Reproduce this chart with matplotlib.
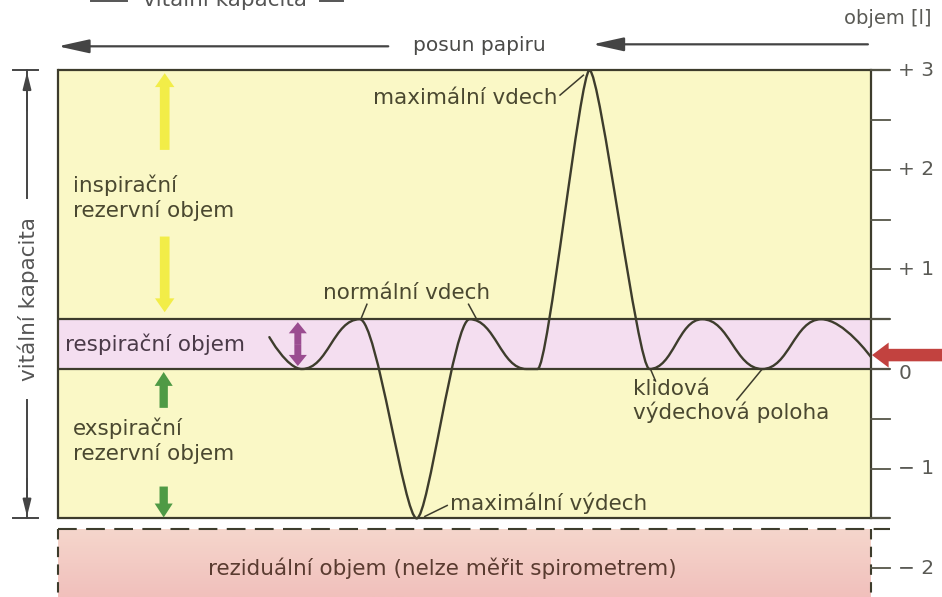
import numpy as np
import matplotlib
matplotlib.use("Agg")
import matplotlib.pyplot as plt
from matplotlib.path import Path
from matplotlib.patches import PathPatch, Rectangle, ArrowStyle

# ---- spirogram trace: turning points (time in chart units, volume in litres) ----
turn_time = [20.8, 24.0, 29.7, 35.3, 40.5, 46.1, 47.2, 52.3, 58.2, 63.4, 69.3, 75.1, 80.0]
turn_volume = [0.32, 0.0, 0.5, -1.5, 0.5, 0.0, 0.0, 3.0, 0.0, 0.5, 0.0, 0.5, 0.12]

# ---- lung volume levels (litres) ----
max_inspiration = 3.0
tidal_top = 0.5
rest_level = 0.0
max_expiration = -1.5
residual_top = -1.61

# ---- volume scale on the right ----
major_ticks = [3, 2, 1, 0, -1, -2]
major_labels = ["+ 3", "+ 2", "+ 1", "0", "− 1", "− 2"]
minor_ticks = [2.5, 1.5, 0.5, -0.5, -1.5]

# ---- styling ----
INK = "#3d3c2c"
TXT = "#4a4830"
YELLOW_BG = "#faf8c6"
PINK_BG = "#f4def0"
FS = 15.5

# Bezier handle fractions (start, end) of every trace segment: short handles give
# steep flanks with rounded turns, long handles give the sinusoid-like tidal breaths
handles = [(0.0, 0.45), (0.45, 0.45), (0.3, 0.22), (0.22, 0.3), (0.45, 0.45),
           (0.0, 0.0), (0.2, 0.18), (0.18, 0.2), (0.45, 0.45), (0.45, 0.45),
           (0.45, 0.45), (0.45, 0.0)]

T0, T1 = 0.0, 80.0          # time span of the recording panel

fig = plt.figure(figsize=(9.42, 5.97), dpi=100)
ax = fig.add_axes([0, 0, 1, 1])
ax.axis("off")
XLIM = (-5.707, 86.99)
YLIM = (-2.289, 3.705)

# ---- background zones ----
ax.add_patch(Rectangle((T0, max_expiration), T1 - T0, max_inspiration - max_expiration,
                       facecolor=YELLOW_BG, edgecolor="none", zorder=0))
ax.add_patch(Rectangle((T0, rest_level), T1 - T0, tidal_top - rest_level,
                       facecolor=PINK_BG, edgecolor="none", zorder=0.5))
grad = np.linspace(0, 1, 64).reshape(-1, 1)
top_c = np.array([245, 214, 204]) / 255
bot_c = np.array([241, 192, 188]) / 255
img = top_c[None, None, :] * (1 - grad[:, :, None]) + bot_c[None, None, :] * grad[:, :, None]
ax.imshow(img, extent=[T0, T1, YLIM[0], residual_top], aspect="auto", origin="upper", zorder=0)

# ---- level lines, extended into ticks on the right ----
tick_end = 81.9
for lvl in [max_inspiration, tidal_top, rest_level, max_expiration]:
    ax.plot([T0, tick_end], [lvl, lvl], color=INK, lw=1.6, zorder=2, solid_capstyle="butt")
ax.plot([T0, T0], [max_expiration, max_inspiration], color=INK, lw=1.6, zorder=2)
ax.plot([T1, T1], [max_expiration, max_inspiration], color=INK, lw=1.6, zorder=2)

# residual volume box (dashed)
dash = (0, (9.0, 4.5))
ax.plot([T0, tick_end], [residual_top, residual_top], color=INK, lw=1.5, ls=dash, zorder=2)
ax.plot([T0, T0], [residual_top, YLIM[0]], color=INK, lw=1.5, ls=(0, (5, 3.5)), zorder=2)
ax.plot([T1, T1], [residual_top, YLIM[0]], color=INK, lw=1.5, ls=(0, (5, 3.5)), zorder=2)

# ---- volume scale ----
for v in major_ticks + minor_ticks:
    ax.plot([T1, tick_end], [v, v], color="#555548", lw=1.3, zorder=2)
for v, lab in zip(major_ticks, major_labels):
    dy = -0.05 if v == 0 else 0.0
    ax.text(82.7, v + dy, lab, fontsize=14.5, color="#5a5a55", va="center", ha="left")
ax.text(86.0, 3.52, "objem [l]", fontsize=14, color="#5a5a55", ha="right", va="center")

# ---- spirogram trace ----
verts = [(turn_time[0], turn_volume[0])]
codes = [Path.MOVETO]
for i in range(len(turn_time) - 1):
    ta, va = turn_time[i], turn_volume[i]
    tb, vb = turn_time[i + 1], turn_volume[i + 1]
    k0, k1 = handles[i]
    dx = tb - ta
    verts += [(ta + k0 * dx, va), (tb - k1 * dx, vb), (tb, vb)]
    codes += [Path.CURVE4] * 3
ax.add_patch(PathPatch(Path(verts, codes), facecolor="none", edgecolor=INK,
                       lw=1.7, zorder=3, capstyle="round", joinstyle="round"))

# ---- paper feed arrows ----
feed = ArrowStyle("-|>", head_length=19, head_width=4.2)
ax.annotate("", xy=(0.0, 3.24), xytext=(32.5, 3.24),
            arrowprops=dict(arrowstyle=feed, color="#444444", lw=1.6, mutation_scale=1,
                            shrinkA=0, shrinkB=0))
ax.annotate("", xy=(52.6, 3.26), xytext=(79.7, 3.26),
            arrowprops=dict(arrowstyle=feed, color="#444444", lw=1.6, mutation_scale=1,
                            shrinkA=0, shrinkB=0))
ax.text(41.5, 3.25, "posun papiru", fontsize=FS - 1, color="#4a4a48", ha="center", va="center")


def block_arrow(tail, head, color, tail_w=6, head_w=13, head_l=10, z=4, alpha=1.0):
    style = ArrowStyle("simple", head_length=head_l, head_width=head_w, tail_width=tail_w)
    ax.annotate("", xy=head, xytext=tail,
                arrowprops=dict(arrowstyle=style, color=color, mutation_scale=1,
                                shrinkA=0, shrinkB=0, lw=0, alpha=alpha),
                zorder=z, annotation_clip=False)


# inspiratory reserve (yellow)
block_arrow((10.5, 2.2), (10.5, 2.97), "#f2ec3a", tail_w=7, head_w=14, alpha=0.9)
block_arrow((10.5, 1.33), (10.5, 0.57), "#f2ec3a", tail_w=7, head_w=14, alpha=0.9)
# expiratory reserve (green)
block_arrow((10.4, -0.39), (10.4, -0.03), "#4f9a45")
block_arrow((10.4, -1.18), (10.4, -1.49), "#4f9a45")
# tidal volume (purple, both ways)
block_arrow((23.6, 0.25), (23.6, 0.47), "#9a4c90", tail_w=5, head_w=13, head_l=8)
block_arrow((23.6, 0.25), (23.6, 0.03), "#9a4c90", tail_w=5, head_w=13, head_l=8)
# resting level marker (red)
block_arrow((87.5, 0.14), (80.1, 0.14), "#c2423f", tail_w=9, head_w=18, head_l=12, z=5)

# ---- labels ----
ax.text(1.5, 1.72, "inspirační\nrezervní objem", fontsize=FS, color=TXT,
        ha="left", va="center", linespacing=1.25)
ax.text(1.5, -0.72, "exspirační\nrezervní objem", fontsize=FS, color=TXT,
        ha="left", va="center", linespacing=1.25)
ax.text(0.7, 0.25, "respirační objem", fontsize=FS, color="#4a3a48", ha="left", va="center")
ax.text(34.3, 0.76, "normální vdech", fontsize=FS, color=TXT, ha="center", va="center")
ax.text(49.2, 2.72, "maximální vdech", fontsize=FS, color=TXT, ha="right", va="center")
ax.text(38.6, -1.35, "maximální výdech", fontsize=FS, color=TXT, ha="left", va="center")
ax.text(56.6, -0.32, "klidová\nvýdechová poloha", fontsize=FS, color=TXT,
        ha="left", va="center", linespacing=1.15)
ax.text(37.8, -2.0, "reziduální objem (nelze měřit spirometrem)", fontsize=FS,
        color="#5a3b30", ha="center", va="center")

# leader lines
leaders = [
    ((49.4, 2.75), (51.7, 2.95)),
    ((30.4, 0.65), (29.8, 0.5)),
    ((40.4, 0.65), (41.2, 0.5)),
    ((38.3, -1.37), (36.1, -1.48)),
    ((58.8, -0.12), (58.3, 0.0)),
    ((66.8, -0.31), (69.3, 0.0)),
]
for (a, b) in leaders:
    ax.plot([a[0], b[0]], [a[1], b[1]], color=INK, lw=1.1, zorder=3)

# ---- vital capacity dimension on the left ----
dim_t = -3.05
ax.plot([dim_t, dim_t], [max_inspiration, 1.72], color="#444444", lw=1.4)
ax.plot([dim_t, dim_t], [-0.31, max_expiration], color="#444444", lw=1.4)
for lvl in [max_inspiration, max_expiration]:
    ax.plot([dim_t - 1.35, dim_t + 1.1], [lvl, lvl], color="#444444", lw=1.4)
dim_head = ArrowStyle("-|>", head_length=10, head_width=2.5)
ax.annotate("", xy=(dim_t, max_inspiration - 0.02), xytext=(dim_t, 2.6),
            arrowprops=dict(arrowstyle=dim_head, color="#444444", lw=1.4, mutation_scale=1,
                            shrinkA=0, shrinkB=0))
ax.annotate("", xy=(dim_t, max_expiration + 0.02), xytext=(dim_t, -1.1),
            arrowprops=dict(arrowstyle=dim_head, color="#444444", lw=1.4, mutation_scale=1,
                            shrinkA=0, shrinkB=0))
ax.text(dim_t + 0.1, 0.7, "vitální kapacita", fontsize=FS, color="#555555", rotation=90,
        ha="center", va="center")

# heading line at the very top of the sheet
ax.text(16.4, 3.715, "vitální kapacita", fontsize=FS, color="#555555", ha="center", va="center")
ax.plot([3.2, 6.8], [3.69, 3.69], color="#555555", lw=1.4)
ax.plot([25.8, 28.0], [3.69, 3.69], color="#555555", lw=1.4)

ax.set_xlim(*XLIM)
ax.set_ylim(*YLIM)
fig.savefig("out.png", dpi=100, facecolor="white")
